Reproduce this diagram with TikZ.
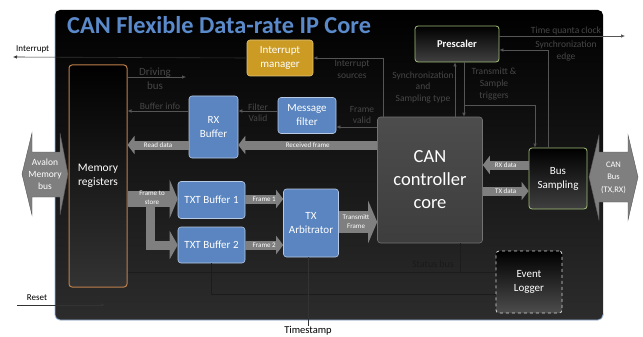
\documentclass[tikz,border=0pt]{standalone}
\usepackage{fontspec}
\setmainfont{Carlito}
\usetikzlibrary{arrows.meta,calc}
\definecolor{panelbot}{HTML}{2C2C2C}
\definecolor{panelblue}{HTML}{9DB7DD}
\definecolor{titleblue}{HTML}{5B8ACB}
\definecolor{boxblue}{HTML}{5A85C0}
\definecolor{boxblueedge}{HTML}{B7C9E4}
\definecolor{gold}{HTML}{CB9B24}
\definecolor{greenedge}{HTML}{A3C07A}
\definecolor{memedge}{HTML}{C0804A}
\definecolor{fatgray}{HTML}{7F7F7F}
\definecolor{lbl}{HTML}{474747}
\definecolor{conn}{HTML}{555555}
\definecolor{faint}{HTML}{1A1A1A}
\definecolor{faintline}{HTML}{1C1C1C}
\tikzset{
  boxbase/.style={rounded corners=3pt, text=white, align=center, inner sep=1pt,
    font=\fontsize{11}{14}\selectfont},
  bluebox/.style={boxbase, fill=boxblue, draw=boxblueedge, line width=0.6pt},
  darkbox/.style={boxbase, top color=black, bottom color=black!75!white, draw=greenedge, line width=0.8pt},
  conline/.style={draw=conn, line width=0.6pt},
  conarrow/.style={conline, -{Latex[length=4pt,width=3.5pt]}},
  darklbl/.style={text=lbl, align=center, font=\fontsize{9.5}{12}\selectfont, inner sep=0pt},
  blacklbl/.style={text=black, align=center, font=\fontsize{9}{11}\selectfont, inner sep=0pt},
  fatlbl/.style={text=white, align=center, font=\fontsize{7}{9}\selectfont, inner sep=0pt},
  fatA/.style={draw=fatgray, line width=9pt, -{Triangle[length=7pt,width=18pt]}},
  bigarrowshape/.style={fill=fatgray, draw=black!30!fatgray, line width=0.4pt},
  faintln/.style={draw=faintline, line width=0.6pt}
}
\begin{document}
\begin{tikzpicture}[x=1pt,y=-1pt]
\useasboundingbox (0,0) rectangle (643,337);
\fill[white] (0,0) rectangle (643,337);
% panel
\shade[top color=black, bottom color=panelbot, rounded corners=5pt] (55,10) rectangle (603,320);
\draw[panelblue, line width=0.8pt, rounded corners=5pt] (55,14) -- (55,320) -- (603,320) -- (603,316);
\node[anchor=west, text=titleblue, font=\fontsize{24.3}{26}\selectfont\bfseries, inner sep=0pt] (title) at (67,25) {CAN Flexible Data-rate IP Core};

% faint status bus label
\node[text=faint, font=\fontsize{10}{12}\selectfont, inner sep=0pt] (stat) at (433,264) {Status bus};

% boxes
\node[boxbase, minimum width=58pt, minimum height=222pt, top color=black, bottom color=black!80!white,
  draw=memedge, line width=1pt, font=\fontsize{11.5}{14}\selectfont] (mem) at (98,176) {Memory\\registers};
\node[boxbase, fill=gold, draw=gold!60!white, line width=0.6pt, minimum width=66pt, minimum height=36pt] (intm) at (280,58) {Interrupt\\manager};
\node[bluebox, minimum width=49pt, minimum height=62pt] (rxb) at (213.5,127) {RX\\Buffer};
\node[bluebox, minimum width=58pt, minimum height=36pt] (msgf) at (307,115.5) {Message\\filter};
\node[boxbase, minimum width=105pt, minimum height=126pt, top color=black!70!white, bottom color=black!76!white,
  draw=black!55!white, line width=0.6pt, font=\fontsize{18.5}{23}\selectfont] (core) at (430,180) {CAN\\controller\\core};
\node[darkbox, minimum width=84pt, minimum height=36pt, font=\fontsize{10.5}{13}\selectfont\bfseries] (pres) at (457,44) {Prescaler};
\node[darkbox, minimum width=58pt, minimum height=61pt] (bus) at (558,178.5) {Bus\\Sampling};
\node[bluebox, minimum width=67pt, minimum height=37pt] (txt1) at (211.5,200) {TXT Buffer 1};
\node[bluebox, minimum width=67pt, minimum height=36pt] (txt2) at (211.5,245) {TXT Buffer 2};
\node[bluebox, minimum width=55pt, minimum height=68pt] (txa) at (311,223) {TX\\Arbitrator};
\node[boxbase, minimum width=66pt, minimum height=62pt, top color=black, bottom color=black!70!white,
  draw=white!85!black, dashed, line width=0.8pt] (evl) at (529,282) {Event\\Logger};

% faint lines
\draw[faintln] (core.south -| 460,0) -- (460,272);
\draw[faintln] (mem.east |- 0,272) -- (evl.west |- 0,272);
\draw[faintln] (txt2.south) |- (evl.west |- 0,294);

% coordinates for free ends
\coordinate (irq) at (13,57);
\coordinate (drv) at (186,77);
\coordinate (tq) at (625,36);
\coordinate (rst0) at (17,305);
\coordinate (rst1) at (105,305);

% thin connectors
\draw[conarrow, draw=black!80!white] (intm.west) -- (irq);
\node[blacklbl, anchor=south west] (irqlbl) at (16,53) {Interrupt};
\draw[conarrow] (core.north -| 383,0) |- (intm.east);
\node[darklbl] (srclbl) at (352,69.5) {Interrupt\\sources};
\draw[conarrow] (mem.east |- 0,77) -- (drv);
\node[darklbl, font=\fontsize{11}{14}\selectfont] (drvlbl) at (155,79) {Driving\\bus};
\draw[conarrow] (rxb.west |- 0,111) -- (mem.east |- 0,111);
\node[darklbl] (bilbl) at (160,106) {Buffer info};
\draw[conarrow] (msgf.west |- 0,111) -- (rxb.east |- 0,111);
\node[darklbl, font=\fontsize{9.5}{11}\selectfont] (fvlbl) at (258,112.5) {Filter\\Valid};
\draw[conarrow] (core.west |- 0,127) -- (msgf.east |- 0,127);
\node[darklbl, font=\fontsize{9.5}{11.5}\selectfont] (frvlbl) at (362,115) {Frame\\valid};
\draw[conarrow] (core.north -| 455,0) -- (pres.south -| 455,0);
\node[darklbl, font=\fontsize{9.5}{11.5}\selectfont] (synlbl) at (423,87.5) {Synchronization\\and\\Sampling type};
\draw[conarrow] (pres.south -| 464,0) -- (core.north -| 464,0);
\draw[conarrow] (464,105) -| (bus.north -| 535,0);
\node[darklbl] (trlbl) at (494,84) {Transmitt \&\\Sample\\triggers};
\draw[conarrow] (bus.north -| 548,0) |- (pres.east |- 0,50);
\node[darklbl] (selbl) at (566,51.5) {Synchronization\\edge};
\draw[conarrow] (pres.east |- 0,36) -- (tq);
\node[darklbl, anchor=south] (tqlbl) at (566,35) {Time quanta clock};
\draw[conarrow, draw=black!80!white] (rst0) -- (rst1);
\node[blacklbl, anchor=south] (rstlbl) at (37,301) {Reset};
\node[blacklbl, font=\fontsize{10.5}{12}\selectfont] (ts) at (308,331) {Timestamp};
\draw[draw=black!80!white, line width=0.6pt] (txa.south -| 308,0) -- (ts.north);

% fat arrows
\draw[fatA] (rxb.west |- 0,145) -- node[fatlbl] {Read data} (mem.east |- 0,145);
\draw[fatA] (core.west |- 0,145) -- node[fatlbl] {Received frame} (rxb.east |- 0,145);
\draw[fatA] (bus.west |- 0,165) -- node[fatlbl] {RX data} (core.east |- 0,165);
\draw[fatA] (core.east |- 0,191) -- node[fatlbl] {TX data} (bus.west |- 0,191);
\draw[fatA] (txt1.east |- 0,199) -- node[fatlbl] {Frame 1} (txa.west |- 0,199);
\draw[fatA] (txt2.east |- 0,245) -- node[fatlbl] {Frame 2} (txa.west |- 0,245);
\draw[draw=fatgray, line width=9pt, -{Triangle[length=8pt,width=28pt]}] (150,199) |- (txt2.west |- 0,245);
\draw[draw=fatgray, line width=16pt, -{Triangle[length=8pt,width=38pt]}] (mem.east |- 0,199) -- (txt1.west |- 0,199);
\node[fatlbl] (ftslbl) at (152,198) {Frame to\\store};
\draw[draw=fatgray, line width=22pt, -{Triangle[length=9pt,width=42pt]}] (txa.east |- 0,222) -- node[fatlbl, pos=0.45] {Transmitt\\Frame} (core.west |- 0,222);

% bus arrows
\fill[bigarrowshape] (22,174) -- (32,133) -- (32,152) -- (60,152) -- (60,133) -- (68,174) -- (60,215) -- (60,197) -- (32,197) -- (32,215) -- cycle;
\node[fatlbl, font=\fontsize{9.5}{12}\selectfont] (aval) at (45,174) {Avalon\\Memory\\bus};
\fill[bigarrowshape] (589,177) -- (599,135) -- (599,152) -- (628,152) -- (628,135) -- (638,177) -- (628,220) -- (628,202) -- (599,202) -- (599,220) -- cycle;
\node[fatlbl, font=\fontsize{8.5}{12.5}\selectfont] (canb) at (613.5,177.5) {CAN\\Bus\\(TX,RX)};
\end{tikzpicture}
\end{document}
